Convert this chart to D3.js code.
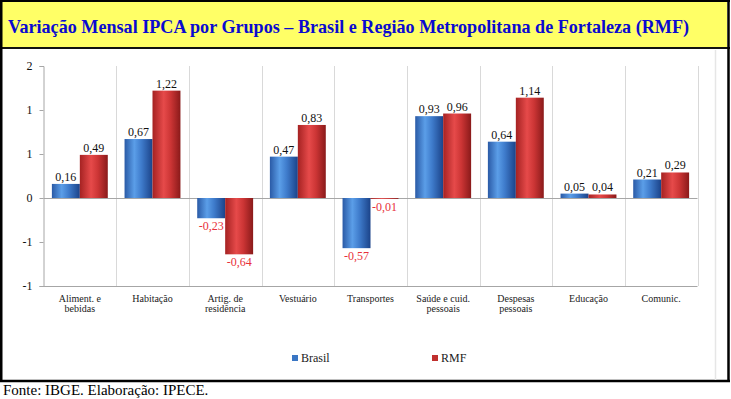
<!DOCTYPE html>
<html>
<head>
<meta charset="utf-8">
<script src="https://cdn.jsdelivr.net/npm/d3@7"></script>
<style>
  body { margin: 0; background: #fff; }
  svg text { font-family: "Liberation Serif", "Times New Roman", serif; }
</style>
</head>
<body>
<svg id="chart" width="731" height="399"></svg>
<script>
// data
const categories = ["Aliment. e bebidas", "Habitação", "Artig. de residência", "Vestuário", "Transportes",
                    "Saúde e cuid. pessoais", "Despesas pessoais", "Educação", "Comunic."];
const categoryLines = [["Aliment. e", "bebidas"], ["Habitação"], ["Artig. de", "residência"], ["Vestuário"],
                       ["Transportes"], ["Saúde e cuid.", "pessoais"], ["Despesas", "pessoais"], ["Educação"], ["Comunic."]];
const seriesNames = ["Brasil", "RMF"];
const brasil = [0.16, 0.67, -0.23, 0.47, -0.57, 0.93, 0.64, 0.05, 0.21];
const rmf = [0.49, 1.22, -0.64, 0.83, -0.01, 0.96, 1.14, 0.04, 0.29];
const yTicks = [-1, -0.5, 0, 0.5, 1, 1.5];
const yTickLabels = ["-1", "-1", "0", "1", "1", "2"];

const title = "Variação Mensal IPCA por Grupos – Brasil e Região Metropolitana de Fortaleza (RMF)";
const source = "Fonte: IBGE. Elaboração: IPECE.";

// pt-BR style numbers with a plain hyphen as minus
const ptBR = d3.formatLocale({decimal: ",", thousands: ".", grouping: [3], currency: ["R$", ""], minus: "-"});
const fmt = ptBR.format(".2f");

const svg = d3.select("#chart");

// frame + title band
svg.append("rect").attr("x", 2).attr("y", 2).attr("width", 725).attr("height", 45).attr("fill", "#ffff66");
svg.append("line").attr("x1", 0).attr("x2", 730).attr("y1", 1).attr("y2", 1).attr("stroke", "#000").attr("stroke-width", 2);
svg.append("line").attr("x1", 0).attr("x2", 730).attr("y1", 48).attr("y2", 48).attr("stroke", "#111").attr("stroke-width", 2);
svg.append("line").attr("x1", 1.25).attr("x2", 1.25).attr("y1", 0).attr("y2", 382).attr("stroke", "#000").attr("stroke-width", 2.5);
svg.append("line").attr("x1", 728.5).attr("x2", 728.5).attr("y1", 0).attr("y2", 382).attr("stroke", "#000").attr("stroke-width", 2.5);
svg.append("line").attr("x1", 0).attr("x2", 730).attr("y1", 381).attr("y2", 381).attr("stroke", "#000").attr("stroke-width", 2.5);
svg.append("line").attr("x1", 715.5).attr("x2", 715.5).attr("y1", 50).attr("y2", 380).attr("stroke", "#e6e6e6").attr("stroke-width", 1.5);

svg.append("text").attr("x", 8).attr("y", 32.5)
   .attr("font-size", 19).attr("font-weight", "bold").attr("fill", "#0a0ad0")
   .attr("textLength", 681).attr("lengthAdjust", "spacingAndGlyphs")
   .text(title);

svg.append("text").attr("x", 3).attr("y", 395).attr("font-size", 15).attr("fill", "#000").text(source);

// gradients for the cylinder-ish bars
const defs = svg.append("defs");
function grad(id, stops) {
    const g = defs.append("linearGradient").attr("id", id).attr("x1", "0%").attr("x2", "100%").attr("y1", "0%").attr("y2", "0%");
    stops.forEach(s => g.append("stop").attr("offset", s[0]).attr("stop-color", s[1]));
}
grad("gBlue", [[0, "#2a5aa6"], [0.35, "#5b9ee8"], [0.6, "#3f7ccc"], [1, "#1b4389"]]);
grad("gRed", [[0, "#a52222"], [0.4, "#e64a4a"], [0.65, "#cc3535"], [1, "#8a1a1a"]]);
const fills = {"Brasil": "url(#gBlue)", "RMF": "url(#gRed)"};

// scales
const left = 43.5, right = 697.5;
const x = d3.scaleBand().domain(categories).range([left, right]).paddingInner(0).paddingOuter(0);
const xs = d3.scaleBand().domain(seriesNames).range([0, x.bandwidth()]).paddingInner(0).paddingOuter(0.3);
const y = d3.scaleLinear().domain([-1, 1.5]).range([286, 66]);

const plot = svg.append("g");

// vertical separators
const bounds = categories.slice(1).map(c => x(c)).concat([right]);
plot.append("g").selectAll("line").data(bounds).enter().append("line")
    .attr("x1", d => Math.round(d) + 0.5).attr("x2", d => Math.round(d) + 0.5)
    .attr("y1", y(1.5)).attr("y2", y(-1))
    .attr("stroke", "#d9d9d9");

// bottom and zero lines
plot.append("line").attr("x1", left).attr("x2", right).attr("y1", y(-1) + 0.5).attr("y2", y(-1) + 0.5).attr("stroke", "#a6a6a6");
plot.append("line").attr("x1", left).attr("x2", right).attr("y1", y(0) + 0.5).attr("y2", y(0) + 0.5).attr("stroke", "#a6a6a6");

// y axis
const yAxis = d3.axisLeft(y).tickValues(yTicks).tickSize(4).tickPadding(7)
    .tickFormat((d, i) => yTickLabels[i]);
const yg = plot.append("g").attr("transform", `translate(${left},0)`).call(yAxis);
yg.attr("font-family", null);
yg.select(".domain").attr("stroke", "#a6a6a6");
yg.selectAll(".tick line").attr("stroke", "#a6a6a6");
yg.selectAll(".tick text").attr("font-size", 12).attr("fill", "#111");

// bars
const rows = categories.map((c, i) => ({cat: c, values: [
    {name: "Brasil", v: brasil[i]}, {name: "RMF", v: rmf[i]}]}));

const grp = plot.append("g").selectAll("g").data(rows).enter().append("g")
    .attr("transform", d => `translate(${x(d.cat)},0)`);

grp.selectAll("rect").data(d => d.values).enter().append("rect")
    .attr("x", d => xs(d.name))
    .attr("width", xs.bandwidth())
    .attr("y", d => y(Math.max(0, d.v)))
    .attr("height", d => Math.abs(y(d.v) - y(0)))
    .attr("fill", d => fills[d.name]);

grp.selectAll("text").data(d => d.values).enter().append("text")
    .attr("x", d => xs(d.name) + xs.bandwidth() / 2)
    .attr("y", d => d.v >= 0 ? y(d.v) - 3 : y(d.v) + 12)
    .attr("text-anchor", "middle")
    .attr("font-size", 12)
    .attr("fill", d => d.v >= 0 ? "#111" : "#e8303a")
    .text(d => fmt(d.v));

// category labels
plot.append("g").selectAll("text").data(categories).enter().append("text")
    .attr("x", d => x(d) + x.bandwidth() / 2)
    .attr("y", 302)
    .attr("text-anchor", "middle")
    .attr("font-size", 10)
    .attr("fill", "#222")
    .each(function(d, i) {
        d3.select(this).selectAll("tspan").data(categoryLines[i]).enter().append("tspan")
          .attr("x", x(d) + x.bandwidth() / 2)
          .attr("dy", (t, j) => j == 0 ? 0 : 10)
          .text(t => t);
    });

// legend
const legendX = [292, 432];
const leg = svg.append("g").selectAll("g").data(seriesNames).enter().append("g")
    .attr("transform", (d, i) => `translate(${legendX[i]},355)`);
leg.append("rect").attr("width", 6).attr("height", 6)
   .attr("fill", d => d == "Brasil" ? "#3a76c4" : "#c0302e");
leg.append("text").attr("x", 9).attr("y", 7).attr("font-size", 12).attr("fill", "#222").text(d => d);
</script>
</body>
</html>
